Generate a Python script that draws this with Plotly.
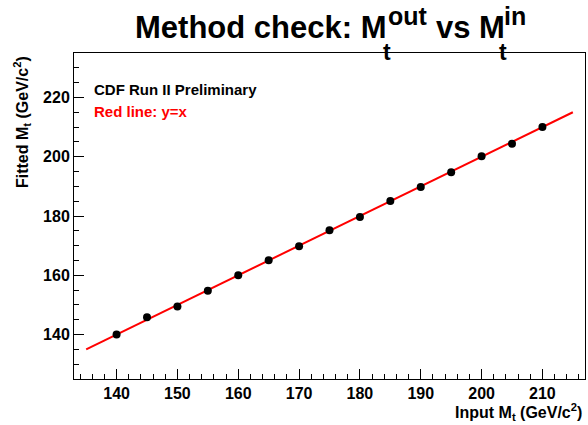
import plotly.graph_objects as go

# Input top mass points and the fitted mass returned by the method
m_input = [140, 145, 150, 155, 160, 165, 170, 175, 180, 185, 190, 195, 200, 205, 210]
m_fitted = [140.0, 145.8, 149.5, 154.8, 160.0, 165.1, 169.8, 175.2, 179.7,
            185.1, 189.8, 194.8, 200.2, 204.4, 210.0]
# y = x reference line end points
ref_x = [135, 215]
ref_y = [135, 215]

x_range = [133, 217]
y_range = [125, 235]

W, H = 588, 425
ML, MR, MT, MB = 74, 3, 53, 46
FONT = "Liberation Sans, Arial, Helvetica, sans-serif"


def px(x):
    return (x - ML) / (W - ML - MR)


def py(y):
    return (H - MB - y) / (H - MT - MB)


fig = go.Figure()
fig.add_trace(go.Scatter(x=ref_x, y=ref_y, mode="lines",
                         line=dict(color="#ff0000", width=2), showlegend=False))
fig.add_trace(go.Scatter(x=m_input, y=m_fitted, mode="markers",
                         marker=dict(color="black", size=8), showlegend=False))

axis_common = dict(
    showgrid=False, zeroline=False, showline=True, linecolor="black", linewidth=1,
    mirror=True, ticks="inside", ticklen=10, tickwidth=1, tickcolor="black",
    tickfont=dict(family=FONT, size=16, color="black", weight="bold"),
)
fig.update_xaxes(range=x_range, dtick=10, tick0=0,
                 minor=dict(dtick=2, ticklen=5, ticks="inside", tickcolor="black"),
                 **axis_common)
fig.update_yaxes(range=y_range, dtick=20, tick0=0,
                 minor=dict(dtick=5, ticklen=5, ticks="inside", tickcolor="black"),
                 **axis_common)

ann = []


def text(s, x, y, size, color="black", xanchor="left", yanchor="middle", angle=0):
    ann.append(dict(text=s, x=px(x), y=py(y), xref="paper", yref="paper",
                    xanchor=xanchor, yanchor=yanchor, showarrow=False, textangle=angle,
                    font=dict(family=FONT, size=size, color=color, weight="bold")))


# Title with stacked sub/superscripts
TS = 31
text("Method check: M", 133, 27, TS)
text("out", 386, 16, 25)
text("t", 381, 52, 23)
text("vs M", 434, 27, TS)
text("in", 502, 16, 25)
text("t", 497, 52, 23)

# Axis titles
text("Input M<sub>t</sub> (GeV/c<sup>2</sup>)", 584, 412, 16, xanchor="right")
text("Fitted M<sub>t</sub> (GeV/c<sup>2</sup>)", 22, 54, 16, xanchor="center",
     yanchor="top", angle=-90)

# Labels inside the frame
text("CDF Run II Preliminary", 92, 89, 15)
text("Red line: y=x", 92, 111, 15, color="#ff0000")

fig.update_layout(
    width=W, height=H,
    margin=dict(l=ML, r=MR, t=MT, b=MB),
    paper_bgcolor="white", plot_bgcolor="white",
    annotations=ann,
)

fig.write_html("out.html")
